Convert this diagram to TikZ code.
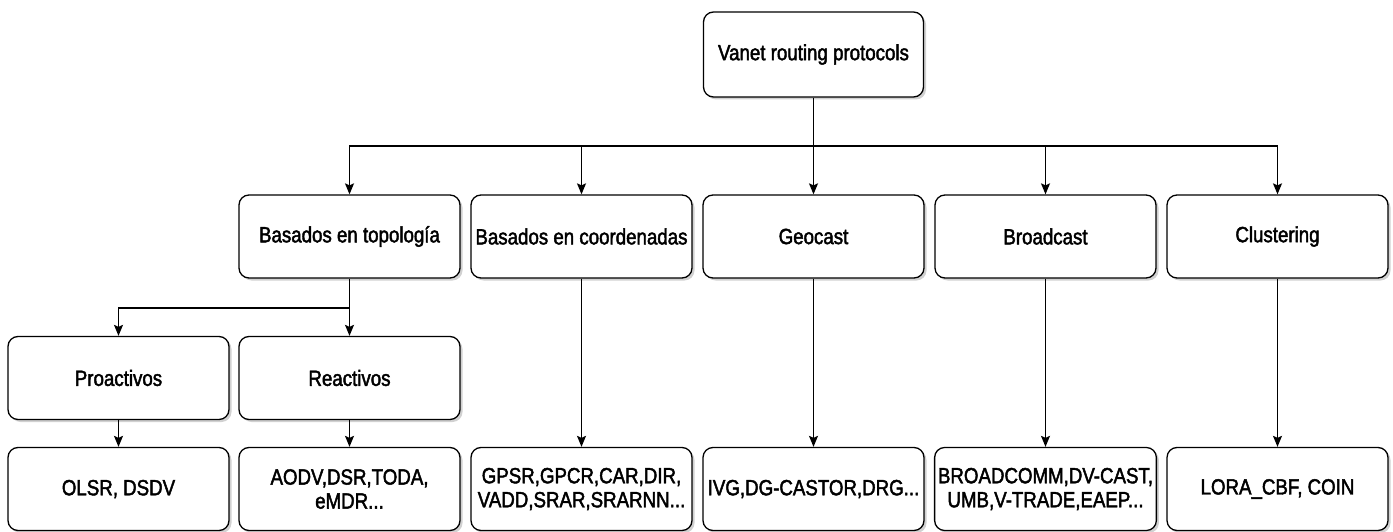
\documentclass[tikz,border=0pt]{standalone}
\usepackage{fontspec}
\setmainfont{Liberation Sans}[FakeStretch=0.85, FakeBold=2]
\usetikzlibrary{arrows.meta,shadows}

\begin{document}
\begin{tikzpicture}[x=1pt, y=-1pt, >={Stealth[length=11pt,width=9pt,inset=2pt]},
  box/.style={draw, line width=1.3pt, rounded corners=10pt, fill=white,
    minimum width=221pt, minimum height=83pt, align=center,
    font=\fontsize{22}{24}\selectfont,
    drop shadow={shadow xshift=2.5pt, shadow yshift=-2.5pt, opacity=0.3, fill=black!60}},
  link/.style={line width=1.3pt}]

\useasboundingbox (0,0) rectangle (1393,532);

% Root
\node[box, minimum width=220pt, minimum height=85pt] (root) at (813.5,54.5) {Vanet routing protocols};

% Families
\node[box] (topo) at (349.5,236.5) {Basados en topología};
\node[box] (coord) at (581.5,236.5) {Basados en coordenadas};
\node[box] (geo) at (813.5,236.5) {Geocast};
\node[box] (broad) at (1045.5,236.5) {Broadcast};
\node[box] (clus) at (1277.5,236.5) {Clustering};

% Topology sub-classes
\node[box] (pro) at (118.5,378) {Proactivos};
\node[box] (rea) at (349.5,378) {Reactivos};

% Examples
\node[box] (olsr) at (118.5,489) {OLSR, DSDV};
\node[box] (aodv) at (349.5,489) {AODV,DSR,TODA,\\eMDR...};
\node[box] (gpsr) at (581.5,489) {GPSR,GPCR,CAR,DIR,\\VADD,SRAR,SRARNN...};
\node[box] (ivg) at (813.5,489) {IVG,DG-CASTOR,DRG...};
\node[box] (bcomm) at (1045.5,489) {BROADCOMM,DV-CAST,\\UMB,V-TRADE,EAEP...};
\node[box] (lora) at (1277.5,489) {LORA\_CBF, COIN};

% Connectors
\coordinate (bus) at (813.5,146);
\coordinate (subbus) at (349.5,308);
\draw[link] (root) -- (bus);
\foreach \n in {topo,coord,geo,broad,clus}
  \draw[link,->] (bus) -| (\n.north);

\draw[link] (topo) -- (subbus);
\draw[link,->] (subbus) -| (pro.north);
\draw[link,->] (subbus) -- (rea.north);

\draw[link,->] (pro) -- (olsr);
\draw[link,->] (rea) -- (aodv);
\draw[link,->] (coord) -- (gpsr);
\draw[link,->] (geo) -- (ivg);
\draw[link,->] (broad) -- (bcomm);
\draw[link,->] (clus) -- (lora);

\end{tikzpicture}
\end{document}
